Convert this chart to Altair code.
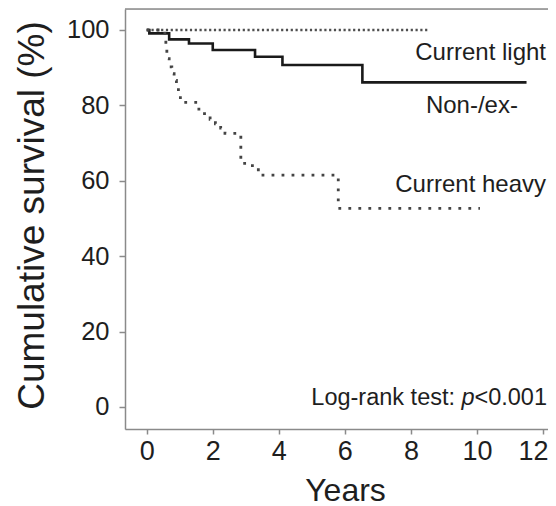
import altair as alt
import pandas as pd

# Kaplan-Meier style step data (years, cumulative survival %)
nonex_t = [0, 0.08, 0.68, 1.28, 2.0, 3.28, 4.11, 6.53, 11.5]
nonex_s = [100, 99.1, 97.5, 96.4, 94.7, 92.9, 90.7, 86.1, 86.1]

light_t = [0, 8.52]
light_s = [100, 100]

heavy_t = [0, 0.55, 0.58, 0.61, 0.68, 0.76, 0.83, 0.90, 0.96, 1.02, 1.58, 1.75,
           1.92, 2.08, 2.24, 2.37, 2.85, 3.2, 3.38, 5.80, 10.09]
heavy_s = [100, 97.5, 95.0, 92.4, 90.2, 88.4, 86.6, 84.8, 82.8, 80.8, 78.6, 77.4,
           76.3, 75.1, 74.0, 72.6, 64.6, 63.4, 61.5, 52.7, 52.7]

labels = ["Current light", "Non-/ex-", "Current heavy"]
label_x = [12.09, 11.24, 12.09]
label_y = [92.0, 78.1, 57.1]

x_ticks = [0, 2, 4, 6, 8, 10, 12]
y_ticks = [0, 20, 40, 60, 80, 100]

rows = []
for g, ts, ss in [("Non-/ex-", nonex_t, nonex_s),
                  ("Current light", light_t, light_s),
                  ("Current heavy", heavy_t, heavy_s)]:
    for i, (t, s) in enumerate(zip(ts, ss)):
        rows.append({"group": g, "t": t, "s": s, "order": i})
df = pd.DataFrame(rows)
lab_df = pd.DataFrame({"label": labels, "x": label_x, "y": label_y})
p_df = pd.DataFrame({"x": [12.12], "y": [0.5]})

FONT = "Liberation Sans, Arial, Helvetica, sans-serif"
W, H = 423, 420

xs = alt.Scale(domain=[-0.657, 12.15], nice=False, zero=False)
ys = alt.Scale(domain=[-5.84, 105.57], nice=False, zero=False)

x_axis = alt.Axis(values=x_ticks, labelFontSize=27, labelColor="#1e1e1e", tickSize=5,
                  labelPadding=4, tickColor="#8a8a8a", domainColor="#8a8a8a",
                  domainWidth=1.5, tickWidth=1.5, grid=False, labelFont=FONT,
                  labelOffset={"condition": {"test": "datum.value == 12", "value": -10}, "value": 0},
                  title="Years", titleFont=FONT, titleFontSize=32, titleFontWeight="normal",
                  titleColor="#1e1e1e", titleX=220, titleY=71, titleBaseline="alphabetic")
y_axis = alt.Axis(values=y_ticks, labelFontSize=25.5, labelColor="#1e1e1e", tickSize=6,
                  labelPadding=10, tickColor="#8a8a8a", domainColor="#8a8a8a",
                  domainWidth=1.5, tickWidth=1.5, grid=False, labelFont=FONT,
                  title="Cumulative survival (%)", titleFont=FONT, titleFontSize=37,
                  titleFontWeight="normal", titleColor="#1e1e1e", titleAngle=270,
                  titleX=-82, titleY=206, titleBaseline="alphabetic", titleAlign="center")

base = alt.Chart(df)

nonex = base.transform_filter(alt.datum.group == "Non-/ex-").mark_line(
    interpolate="step-after", color="#1a1a1a", strokeWidth=2.6
).encode(x=alt.X("t:Q", scale=xs, axis=x_axis),
         y=alt.Y("s:Q", scale=ys, axis=y_axis),
         order="order:Q")

light = base.transform_filter(alt.datum.group == "Current light").mark_line(
    interpolate="step-after", color="#4f4f4f", strokeWidth=2.3, strokeDash=[2.2, 2.6]
).encode(x=alt.X("t:Q", scale=xs), y=alt.Y("s:Q", scale=ys), order="order:Q")

heavy = base.transform_filter(alt.datum.group == "Current heavy").mark_line(
    interpolate="step-after", color="#444444", strokeWidth=2.8, strokeDash=[2.8, 7.2]
).encode(x=alt.X("t:Q", scale=xs), y=alt.Y("s:Q", scale=ys), order="order:Q")

top_line = alt.Chart(pd.DataFrame({"a": [0]})).mark_rule(
    color="#8a8a8a", strokeWidth=1.5
).encode(x=alt.value(0), x2=alt.value(W), y=alt.value(0))

texts = alt.Chart(lab_df).mark_text(
    align="right", baseline="alphabetic", fontSize=24, font=FONT, color="#1e1e1e"
).encode(x=alt.X("x:Q", scale=xs), y=alt.Y("y:Q", scale=ys), text="label:N")

p_val = alt.Chart(p_df).mark_text(
    align="right", baseline="alphabetic", fontSize=23.5, font=FONT, color="#1e1e1e"
).encode(x=alt.X("x:Q", scale=xs), y=alt.Y("y:Q", scale=ys), text=alt.value("<0.001"))
p_it = alt.Chart(p_df).mark_text(
    align="right", baseline="alphabetic", fontSize=23.5, font=FONT, color="#1e1e1e",
    fontStyle="italic", dx=-72.5
).encode(x=alt.X("x:Q", scale=xs), y=alt.Y("y:Q", scale=ys), text=alt.value("p"))
p_lab = alt.Chart(p_df).mark_text(
    align="right", baseline="alphabetic", fontSize=23.5, font=FONT, color="#1e1e1e", dx=-92
).encode(x=alt.X("x:Q", scale=xs), y=alt.Y("y:Q", scale=ys), text=alt.value("Log-rank test:"))

chart = alt.layer(nonex, light, heavy, top_line, texts, p_val, p_it, p_lab).properties(
    width=W, height=H,
    padding={"left": 117, "top": 1, "right": 0, "bottom": 77},
    autosize=alt.AutoSizeParams(type="none"),
).configure_view(stroke=None).configure(background="white")

chart.save("out.html", embed_options={"renderer": "svg", "actions": False})
